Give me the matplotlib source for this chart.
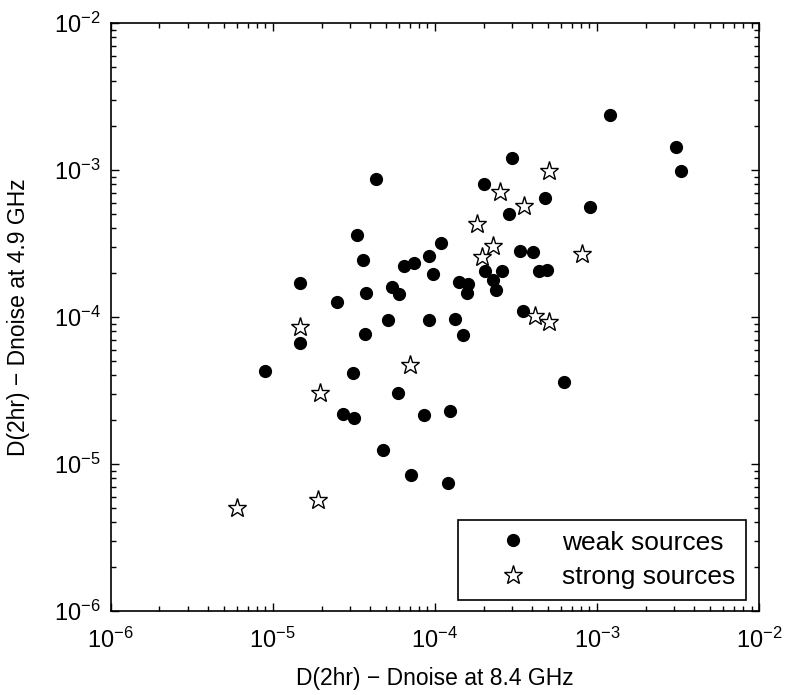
import matplotlib
matplotlib.use("Agg")
from matplotlib import pyplot as plt
from matplotlib.ticker import LogLocator

plt.rcParams['font.family'] = ['Liberation Sans', 'DejaVu Sans']
plt.rcParams['mathtext.fontset'] = 'custom'
plt.rcParams['mathtext.rm'] = 'Liberation Sans'
plt.rcParams['mathtext.it'] = 'Liberation Sans'
plt.rcParams['mathtext.default'] = 'regular'

# structure function excess at 8.4 GHz (x) and 4.9 GHz (y)
weak_x = [1.21e-3, 3.09e-3, 3.30e-3, 3.00e-4, 2.00e-4, 4.78e-4, 9.10e-4, 2.88e-4,
          4.35e-5, 3.33e-5, 3.60e-5, 1.48e-5, 6.49e-5, 7.48e-5, 9.27e-5, 1.09e-4,
          9.68e-5, 2.48e-5, 3.75e-5, 5.44e-5, 6.03e-5, 5.15e-5, 9.23e-5, 3.73e-5,
          1.48e-5, 9.00e-6, 3.12e-5, 5.96e-5, 2.73e-5, 3.19e-5, 8.55e-5, 4.82e-5,
          7.10e-5, 1.21e-4, 1.24e-4, 6.31e-4, 3.37e-4, 4.06e-4, 2.04e-4, 2.59e-4,
          2.29e-4, 2.40e-4, 1.42e-4, 1.60e-4, 1.58e-4, 4.38e-4, 4.95e-4, 3.48e-4,
          1.34e-4, 1.50e-4]
weak_y = [2.37e-3, 1.43e-3, 9.84e-4, 1.21e-3, 8.03e-4, 6.46e-4, 5.62e-4, 5.00e-4,
          8.73e-4, 3.63e-4, 2.44e-4, 1.69e-4, 2.23e-4, 2.33e-4, 2.59e-4, 3.17e-4,
          1.96e-4, 1.26e-4, 1.46e-4, 1.59e-4, 1.43e-4, 9.50e-5, 9.59e-5, 7.62e-5,
          6.68e-5, 4.28e-5, 4.18e-5, 3.05e-5, 2.20e-5, 2.05e-5, 2.15e-5, 1.24e-5,
          8.41e-6, 7.43e-6, 2.30e-5, 3.63e-5, 2.79e-4, 2.75e-4, 2.04e-4, 2.05e-4,
          1.78e-4, 1.53e-4, 1.73e-4, 1.67e-4, 1.46e-4, 2.04e-4, 2.10e-4, 1.10e-4,
          9.64e-5, 7.55e-5]

strong_x = [5.09e-4, 2.53e-4, 3.54e-4, 1.82e-4, 2.27e-4, 1.96e-4, 8.07e-4,
            4.14e-4, 5.09e-4, 1.48e-5, 7.02e-5, 1.97e-5, 5.98e-6, 1.91e-5]
strong_y = [9.89e-4, 7.08e-4, 5.69e-4, 4.28e-4, 3.04e-4, 2.57e-4, 2.70e-4,
            1.02e-4, 9.18e-5, 8.55e-5, 4.71e-5, 3.03e-5, 4.98e-6, 5.69e-6]

fig = plt.figure(figsize=(7.86, 6.95), dpi=100, facecolor="white")
ax = fig.add_axes([0.1408, 0.1209, 0.8248, 0.846])

ax.plot(weak_x, weak_y, 'o', color='black', markersize=8.5, label='weak sources')
ax.plot(strong_x, strong_y, '*', markerfacecolor='white', markeredgecolor='black',
        markeredgewidth=1.0, markersize=14, label='strong sources')

ax.set_xscale('log')
ax.set_yscale('log')
ax.set_xlim(1e-6, 1e-2)
ax.set_ylim(1e-6, 1e-2)
ax.xaxis.set_major_locator(LogLocator(base=10, numticks=10))
ax.yaxis.set_major_locator(LogLocator(base=10, numticks=10))
ax.xaxis.set_minor_locator(LogLocator(base=10, subs=range(2, 10), numticks=20))
ax.yaxis.set_minor_locator(LogLocator(base=10, subs=range(2, 10), numticks=20))

ax.tick_params(which='both', direction='in', top=True, right=True, labelsize=17, width=1)
ax.tick_params(which='major', length=6)
ax.tick_params(which='minor', length=3.5)
ax.tick_params(axis='x', which='major', pad=12)
ax.tick_params(axis='y', which='major', pad=7)
for s in ax.spines.values():
    s.set_linewidth(1.2)

ax.set_xlabel('D(2hr) \u2212 Dnoise at 8.4 GHz', fontsize=16.5, labelpad=10)
ax.set_ylabel('D(2hr) \u2212 Dnoise at 4.9 GHz', fontsize=16.5, labelpad=17)

leg = ax.legend(loc='lower right', bbox_to_anchor=(0.98, 0.019), borderaxespad=0,
                fontsize=19, frameon=True, fancybox=False, edgecolor='black',
                framealpha=1, borderpad=0.4, handlelength=3.37, handletextpad=0.17,
                labelspacing=0.4)
leg.get_frame().set_linewidth(1.2)

fig.savefig('out.png', dpi=100, facecolor='white')
